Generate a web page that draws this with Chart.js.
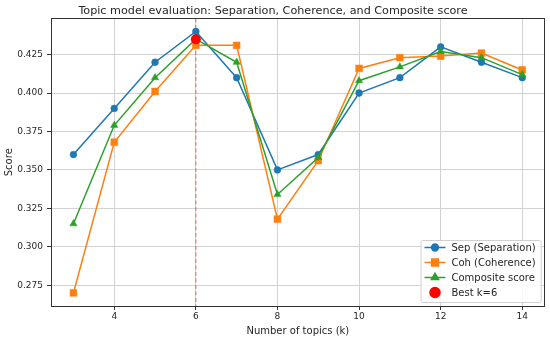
<!DOCTYPE html>
<html>
<head>
<meta charset="utf-8">
<script src="https://cdn.jsdelivr.net/npm/chart.js@4.4.1/dist/chart.umd.min.js"></script>
<style>
  html, body { margin: 0; padding: 0; background: #fff; }
  #wrap { width: 550px; height: 339px; position: relative; }
</style>
</head>
<body>
<div id="wrap"><canvas id="chart"></canvas></div>
<script>
// values
var kValues = [3, 4, 5, 6, 7, 8, 9, 10, 11, 12, 13, 14];
var sepValues = [0.360, 0.390, 0.420, 0.440, 0.410, 0.350, 0.360, 0.400, 0.410, 0.430, 0.420, 0.410];
var cohValues = [0.270, 0.368, 0.401, 0.431, 0.431, 0.318, 0.356, 0.416, 0.423, 0.424, 0.426, 0.415];
var compValues = [0.315, 0.379, 0.410, 0.435, 0.420, 0.334, 0.358, 0.408, 0.417, 0.427, 0.423, 0.412];
var bestK = 6;
var bestScore = 0.435;
var xTicks = [4, 6, 8, 10, 12, 14];
var yTicks = [0.275, 0.300, 0.325, 0.350, 0.375, 0.400, 0.425];

var FONT = "'DejaVu Sans', sans-serif";
var TEXT = '#262626';

function pairs(xs, ys) {
    return xs.map(function (x, i) { return { x: x, y: ys[i] }; });
}

// dashed marker at the best k, plus the outer frame
var bestLinePlugin = {
    id: 'bestLine',
    beforeDatasetsDraw: function (chart) {
        var ctx = chart.ctx, a = chart.chartArea;
        var px = chart.scales.x.getPixelForValue(bestK);
        ctx.save();
        ctx.strokeStyle = 'rgba(214,39,40,0.65)';
        ctx.lineWidth = 1;
        ctx.setLineDash([4, 2.5]);
        ctx.beginPath();
        ctx.moveTo(px, a.top);
        ctx.lineTo(px, a.bottom);
        ctx.stroke();
        ctx.restore();
    },
    afterDatasetsDraw: function (chart) {
        var ctx = chart.ctx, a = chart.chartArea;
        ctx.save();
        ctx.strokeStyle = '#333';
        ctx.lineWidth = 1;
        ctx.strokeRect(Math.round(a.left) + 0.5, Math.round(a.top) + 0.5,
            Math.round(a.right - a.left) - 1, Math.round(a.bottom - a.top));
        ctx.restore();
    }
};

// matplotlib-like legend in the lower right of the plot
var boxLegendPlugin = {
    id: 'boxLegend',
    afterDraw: function (chart) {
        var ctx = chart.ctx, a = chart.chartArea;
        var items = chart.data.datasets.slice();
        ctx.save();
        ctx.font = '10px ' + FONT;
        var maxW = 0;
        items.forEach(function (d) { maxW = Math.max(maxW, ctx.measureText(d.label).width); });
        var rowH = 15;
        var w = 4 + 21 + 6 + maxW + 5;
        var h = items.length * rowH + 2;
        var right = a.right - 4, bottom = a.bottom - 4;
        var left = right - w, top = bottom - h;

        ctx.beginPath();
        ctx.roundRect(left + 0.5, top + 0.5, w, h, 2);
        ctx.fillStyle = 'rgba(255,255,255,0.85)';
        ctx.fill();
        ctx.strokeStyle = '#d0d0d0';
        ctx.lineWidth = 1;
        ctx.stroke();

        items.forEach(function (d, i) {
            var cy = top + 7.5 + i * rowH;
            var hx0 = left + 4, hx1 = left + 25, hc = (hx0 + hx1) / 2;
            if (d.showLine !== false) {
                ctx.strokeStyle = d.borderColor;
                ctx.lineWidth = d.borderWidth;
                ctx.beginPath();
                ctx.moveTo(hx0, cy);
                ctx.lineTo(hx1, cy);
                ctx.stroke();
            }
            ctx.fillStyle = d.pointBackgroundColor;
            ctx.strokeStyle = d.pointBackgroundColor;
            Chart.helpers.drawPoint(ctx, {
                pointStyle: d.pointStyle,
                rotation: 0,
                radius: d.pointRadius,
                borderWidth: 0.5
            }, hc, cy);
            ctx.fillStyle = TEXT;
            ctx.textBaseline = 'middle';
            ctx.textAlign = 'left';
            ctx.fillText(d.label, left + 31, cy + 0.5);
        });
        ctx.restore();
    }
};

function series(label, ys, color, style, radius, order) {
    return {
        label: label,
        data: pairs(kValues, ys),
        borderColor: color,
        backgroundColor: color,
        pointBackgroundColor: color,
        pointBorderColor: color,
        pointBorderWidth: 0.5,
        pointStyle: style,
        pointRadius: radius,
        borderWidth: 1.5,
        showLine: true,
        order: order
    };
}

var datasets = [
    series('Sep (Separation)', sepValues, '#1f77b4', 'circle', 3.4, 3),
    series('Coh (Coherence)', cohValues, '#ff7f0e', 'rect', 4.8, 2),
    series('Composite score', compValues, '#2ca02c', 'triangle', 4.2, 1),
    {
        label: 'Best k=' + bestK,
        data: [{ x: bestK, y: bestScore }],
        showLine: false,
        borderColor: '#ff0000',
        backgroundColor: '#ff0000',
        pointBackgroundColor: '#ff0000',
        pointBorderColor: '#ff0000',
        pointBorderWidth: 0,
        pointStyle: 'circle',
        pointRadius: 5,
        borderWidth: 0,
        order: 0
    }
];

new Chart(document.getElementById('chart').getContext('2d'), {
    type: 'scatter',
    data: { datasets: datasets },
    options: {
        responsive: true,
        maintainAspectRatio: false,
        animation: false,
        layout: { padding: { left: 0, right: 4, top: 0, bottom: 0 } },
        plugins: {
            legend: { display: false },
            tooltip: { enabled: false },
            title: {
                display: true,
                text: 'Topic model evaluation: Separation, Coherence, and Composite score',
                color: TEXT,
                font: { family: FONT, size: 11.2, weight: 'normal' },
                padding: { top: 4, bottom: 1 }
            }
        },
        scales: {
            x: {
                type: 'linear',
                min: 2.45,
                max: 14.55,
                afterBuildTicks: function (s) { s.ticks = xTicks.map(function (v) { return { value: v }; }); },
                afterFit: function (s) { s.height = 33; },
                grid: { color: '#d2d2d2', lineWidth: 1, tickColor: '#333', tickLength: 4 },
                border: { display: false },
                ticks: { color: TEXT, font: { family: FONT, size: 9 }, padding: 1, maxRotation: 0 },
                title: {
                    display: true,
                    text: 'Number of topics (k)',
                    color: TEXT,
                    font: { family: FONT, size: 10 },
                    padding: { top: 0, bottom: 2 }
                }
            },
            y: {
                type: 'linear',
                min: 0.2615,
                max: 0.4485,
                afterBuildTicks: function (s) { s.ticks = yTicks.map(function (v) { return { value: v }; }); },
                afterFit: function (s) { s.width = 51; },
                grid: { color: '#d2d2d2', lineWidth: 1, tickColor: '#333', tickLength: 4 },
                border: { display: false },
                ticks: {
                    color: TEXT,
                    font: { family: FONT, size: 9 },
                    padding: 4,
                    callback: function (v) { return Number(v).toFixed(3); }
                },
                title: {
                    display: true,
                    text: 'Score',
                    color: TEXT,
                    font: { family: FONT, size: 10 },
                    padding: { top: 3, bottom: 0 }
                }
            }
        }
    },
    plugins: [bestLinePlugin, boxLegendPlugin]
});
</script>
</body>
</html>
